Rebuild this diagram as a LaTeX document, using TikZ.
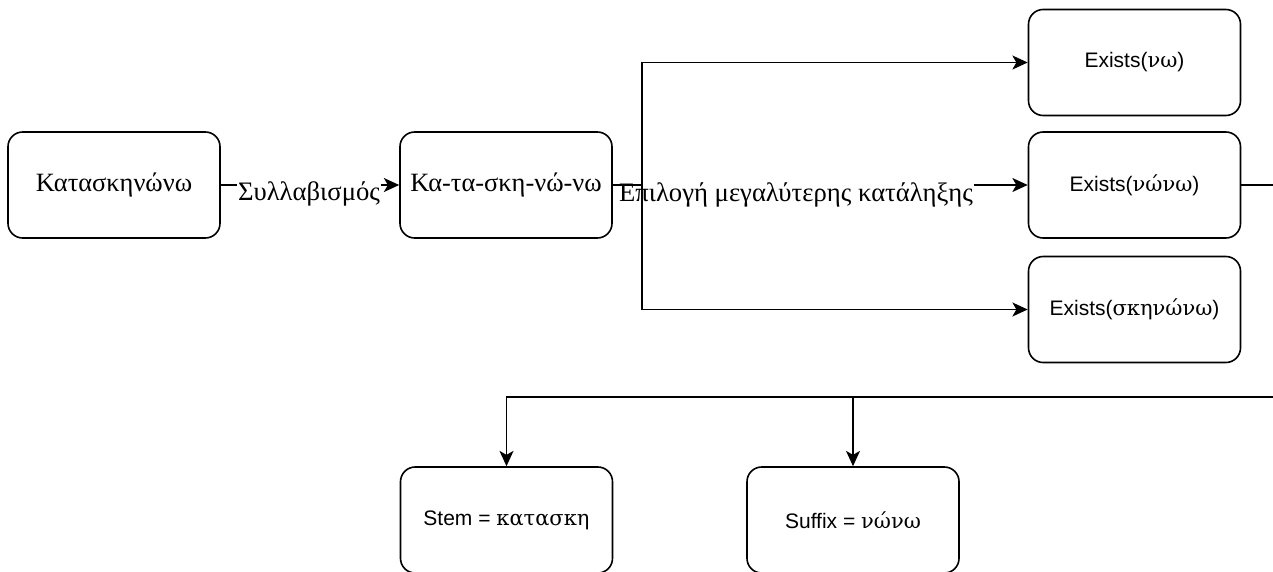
\documentclass[tikz,border=0pt]{standalone}
\usepackage{fontspec}
\setmainfont{Liberation Serif}
\newfontfamily\sansf{Liberation Sans}
\newfontfamily\grk{DejaVu Serif}
\usetikzlibrary{arrows.meta}
\begin{document}
\begin{tikzpicture}[x=0.75pt,y=-0.75pt,
  box/.style={draw=black, line width=1.2pt, rounded corners=11pt, minimum width=159pt, minimum height=79.5pt, inner sep=0pt, align=center},
  serifbox/.style={box, font=\fontsize{19.8}{23}\selectfont},
  sansbox/.style={box, font=\sansf\fontsize{15.75}{19}\selectfont},
  conn/.style={line width=1.2pt, -{Stealth[length=11.5pt,width=10.5pt,inset=3pt]}},
  elabel/.style={fill=white, inner xsep=1pt, inner ysep=0pt, text height=14pt, text depth=5pt, anchor=base, font=\fontsize{20}{23}\selectfont}]
\useasboundingbox (0,0) rectangle (1273,571);
\clip (0,0) rectangle (1273,571);
\fill[white] (0,0) rectangle (1273,571);

\node[serifbox] (A) at (114,185) {Κατασκηνώνω};
\node[serifbox] (B) at (506,185) {Κα-τα-σκη-νώ-νω};
\node[sansbox] (C1) at (1134.5,62.5) {Exists({\grk νω})};
\node[sansbox] (C2) at (1134.5,185) {Exists({\grk νώνω})};
\node[sansbox] (C3) at (1134.5,309.5) {Exists({\grk σκηνώνω})};
\node[sansbox] (S) at (506.5,520) {Stem = {\grk κατασκη}};
\node[sansbox] (F) at (853,520) {Suffix = {\grk νώνω}};

\draw[conn] (A.east) -- (B.west);
\node[elabel] (l1) at (309,200) {Συλλαβισμός};

\draw[conn] (B.east) -- (C2.west);
\node[elabel] (l2) at (796,201.5) {Επιλογή μεγαλύτερης κατάληξης};

\coordinate (jx) at (641.7,185);
\draw[conn] (B.east) -- (jx) |- (C1.west);
\draw[conn] (B.east) -- (jx) |- (C3.west);

\coordinate (r) at (1295,185);
\coordinate (h) at (1295,397);
\draw[conn] (C2.east) -- (r) -- (h) -| (S.north);
\draw[conn] (C2.east) -- (r) -- (h) -| (F.north);
\end{tikzpicture}
\end{document}
